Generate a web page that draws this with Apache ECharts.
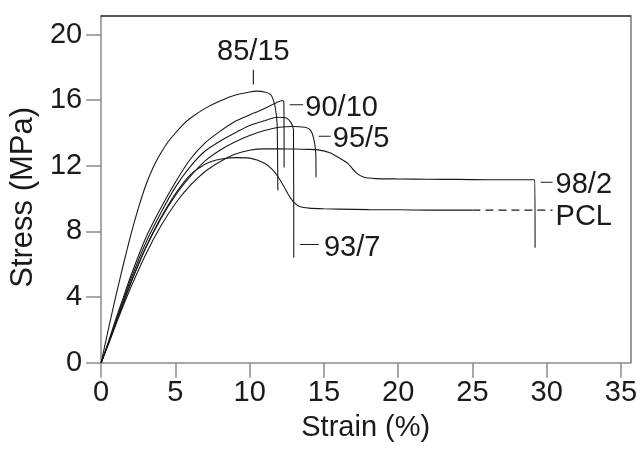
<!DOCTYPE html>
<html><head><meta charset="utf-8">
<script src="https://cdn.jsdelivr.net/npm/echarts@6/dist/echarts.min.js"></script>
<style>html,body{margin:0;padding:0;background:#fff}#c{width:640px;height:449px}</style>
</head><body><div id="c"></div>
<script>
// ---- data (strain %, stress MPa) ----
const xTicks = [0, 5, 10, 15, 20, 25, 30, 35];
const yTicks = [0, 4, 8, 12, 16, 20];
const seriesNames = ['85/15', '90/10', '93/7', '95/5', '98/2', 'PCL'];

const c85_15 = [[0,0],[0.5,2.1],[1,4.1],[1.5,6.0],[2,7.8],[2.5,9.4],[3,10.8],[3.5,11.9],[4,12.75],[4.5,13.45],[5,14.0],[5.5,14.5],[6,14.9],[7,15.5],[8,15.95],[9,16.3],[10,16.5],[10.5,16.55],[11,16.5],[11.4,16.35],[11.6,16.0],[11.75,15.4],[11.85,14.5],[11.9,10.5]];
const c90_10 = [[0,0],[0.5,1.3],[1,2.7],[1.5,4.0],[2,5.3],[3,7.6],[4,9.4],[5,11.0],[6,12.4],[7,13.4],[8,14.1],[9,14.7],[10,15.1],[11,15.5],[11.8,15.85],[12.2,15.98],[12.3,15.9],[12.32,11.9]];
const c93_7 = [[0,0],[0.5,1.25],[1,2.55],[1.5,3.85],[2,5.1],[3,7.3],[4,9.1],[5,10.7],[6,11.95],[7,12.9],[8,13.5],[9,14.0],[10,14.45],[11,14.75],[11.8,14.96],[12.5,14.9],[12.8,14.6],[12.95,14.2],[12.97,6.4]];
const c95_5 = [[0,0],[0.5,1.2],[1,2.45],[1.5,3.7],[2,4.9],[3,7.0],[4,8.75],[5,10.2],[6,11.35],[7,12.3],[8,12.95],[9,13.45],[10,13.85],[11,14.15],[12,14.35],[13,14.4],[13.7,14.35],[14.0,14.25],[14.2,14.0],[14.35,13.5],[14.45,12.8],[14.47,11.3]];
const c98_2 = [[0,0],[0.5,1.15],[1,2.35],[1.5,3.5],[2,4.6],[3,6.6],[4,8.3],[5,9.7],[6,10.8],[7,11.65],[8,12.25],[9,12.7],[10,12.95],[11,13.03],[12,13.03],[13,13.02],[14,13.0],[14.6,12.97],[15.4,12.8],[16,12.5],[16.6,12.15],[17.2,11.55],[17.7,11.3],[18.5,11.22],[20,11.2],[22,11.18],[24,11.17],[26,11.15],[28,11.15],[29.2,11.15],[29.22,7.0]];
const cPCL = [[0,0],[0.5,1.2],[1,2.45],[1.5,3.65],[2,4.85],[3,7.0],[4,8.8],[5,10.3],[6,11.45],[7,12.1],[8,12.4],[9,12.5],[10,12.47],[10.5,12.35],[11,12.15],[11.5,11.8],[11.9,11.35],[12.3,10.75],[12.6,10.25],[13.0,9.75],[13.4,9.5],[14,9.42],[15,9.38],[16,9.36],[18,9.33],[20,9.32],[22,9.3],[24,9.3],[25,9.3]];
const curves = [c85_15, c90_10, c93_7, c95_5, c98_2, cPCL];

// annotation placement (data units)
const annotations = [
  {text: '85/15', from: [10.25, 16.95], to: [10.25, 17.85], at: [10.25, 18.95], align: 'center'},
  {text: '90/10', from: [12.7, 15.72], to: [13.6, 15.72], at: [13.75, 15.55], align: 'left'},
  {text: '95/5', from: [14.65, 13.8], to: [15.45, 13.8], at: [15.6, 13.62], align: 'left'},
  {text: '93/7', from: [13.4, 7.2], to: [14.65, 7.2], at: [15.0, 7.02], align: 'left'},
  {text: '98/2', from: [29.6, 11.0], to: [30.4, 11.0], at: [30.6, 10.85], align: 'left'},
  {text: 'PCL', from: [25, 9.3], to: [30.4, 9.3], at: [30.6, 8.88], align: 'left', dashed: true}
];

const FONT = '"Liberation Sans", Arial, Helvetica, sans-serif';
const INK = '#1a1a1a';
const AXIS = '#8a8a8a';
const XMAX = 35.63, YMAX = 21.13;

const chart = echarts.init(document.getElementById('c'), null, {renderer: 'canvas'});

const series = curves.map((d, i) => ({
  name: seriesNames[i], type: 'line', data: d, showSymbol: false, smooth: 0.2,
  lineStyle: {color: INK, width: 1.1}, silent: true, animation: false, z: 3
}));
annotations.forEach(a => series.push({
  type: 'line', data: [a.from, a.to], showSymbol: false, silent: true, animation: false,
  lineStyle: {color: INK, width: 1.1, type: a.dashed ? [8, 5] : 'solid'}, z: 3
}));

chart.setOption({
  animation: false,
  backgroundColor: '#fff',
  grid: {left: 99, right: 8.5, top: 16, bottom: 86.3, containLabel: false},
  xAxis: [{
    type: 'value', min: 0, max: XMAX, interval: 5,
    name: 'Strain (%)', nameLocation: 'middle', nameGap: 51,
    nameTextStyle: {fontSize: 29, color: INK, fontFamily: FONT},
    axisLine: {show: true, lineStyle: {color: AXIS, width: 1.5}},
    axisTick: {show: true, length: 15, lineStyle: {color: AXIS, width: 1.5}, customValues: xTicks},
    axisLabel: {fontSize: 29, color: INK, fontFamily: FONT, margin: 16, customValues: xTicks},
    splitLine: {show: false}
  }, {
    type: 'value', position: 'top', min: 0, max: XMAX,
    axisLine: {show: true, onZero: false, lineStyle: {color: '#222', width: 1.5}},
    axisTick: {show: false}, axisLabel: {show: false}, splitLine: {show: false}
  }],
  yAxis: [{
    type: 'value', min: 0, max: YMAX, interval: 4,
    name: 'Stress (MPa)', nameLocation: 'middle', nameGap: 57, nameRotate: 90,
    nameTextStyle: {fontSize: 31, color: INK, fontFamily: FONT, padding: [0, 16, 0, 0]},
    axisLine: {show: true, lineStyle: {color: AXIS, width: 1.5}},
    axisTick: {show: true, length: 15, lineStyle: {color: AXIS, width: 1.5}, customValues: yTicks},
    axisLabel: {fontSize: 29, color: INK, fontFamily: FONT, margin: 19, customValues: yTicks},
    splitLine: {show: false}
  }, {
    type: 'value', position: 'right', min: 0, max: YMAX,
    axisLine: {show: true, onZero: false, lineStyle: {color: '#999', width: 2}},
    axisTick: {show: false}, axisLabel: {show: false}, splitLine: {show: false}
  }],
  series: series
});

const texts = annotations.map(a => {
  const p = chart.convertToPixel({xAxisIndex: 0, yAxisIndex: 0}, a.at);
  return {
    type: 'text', x: p[0], y: p[1], silent: true, z: 10,
    style: {text: a.text, fill: INK, font: '29px ' + FONT, align: a.align, verticalAlign: 'middle'}
  };
});
chart.setOption({graphic: texts});
</script>
</body></html>
